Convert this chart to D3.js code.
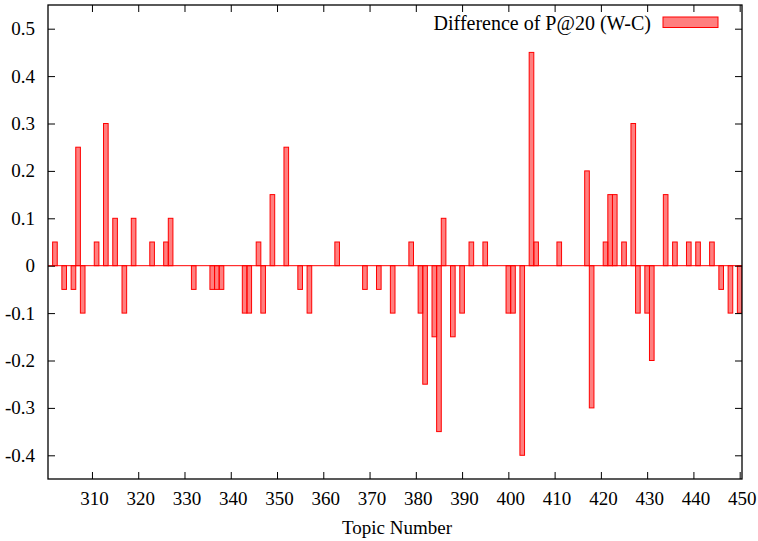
<!DOCTYPE html>
<html>
<head>
<meta charset="utf-8">
<script src="https://d3js.org/d3.v7.min.js"></script>
<style>
  body { margin: 0; background: #fff; }
  #chart { width: 758px; height: 541px; }
</style>
</head>
<body>
<div id="chart"></div>
<script>
// Topics with a non-zero difference (every other topic in 301-450 is 0)
const topics = [302, 304, 306, 307, 308, 311, 313, 315, 317, 319, 323, 326, 327, 332, 336, 337, 338,
    343, 344, 346, 347, 349, 352, 355, 357, 363, 369, 372, 375, 379, 381, 382, 384, 385, 386, 388,
    390, 392, 395, 400, 401, 403, 405, 406, 411, 417, 418, 421, 422, 423, 425, 427, 428, 430, 431,
    434, 436, 439, 441, 444, 446, 448, 450];
const diffs = [0.05, -0.05, -0.05, 0.25, -0.1, 0.05, 0.3, 0.1, -0.1, 0.1, 0.05, 0.05, 0.1, -0.05, -0.05, -0.05, -0.05,
    -0.1, -0.1, 0.05, -0.1, 0.15, 0.25, -0.05, -0.1, 0.05, -0.05, -0.05, -0.1, 0.05, -0.1, -0.25, -0.15, -0.35, 0.1, -0.15,
    -0.1, 0.05, 0.05, -0.1, -0.1, -0.4, 0.45, 0.05, 0.05, 0.2, -0.3, 0.05, 0.15, 0.15, 0.05, 0.3, -0.1, -0.1, -0.2,
    0.15, 0.05, 0.05, 0.05, 0.05, -0.05, -0.1, -0.1];
const xTicks = [310, 320, 330, 340, 350, 360, 370, 380, 390, 400, 410, 420, 430, 440, 450];
const yTicks = [-0.4, -0.3, -0.2, -0.1, 0, 0.1, 0.2, 0.3, 0.4, 0.5];
const seriesName = 'Difference of P@20 (W-C)';

const FONT = '"Liberation Serif", "DejaVu Serif", serif';

const W = 758, H = 541;
const margin = { top: 5, right: 16, bottom: 62, left: 48 };
const width = W - margin.left - margin.right;
const height = H - margin.top - margin.bottom;

const svg = d3.select('#chart')
    .append('svg')
    .attr('width', W)
    .attr('height', H)
    .append('g')
    .attr('transform', `translate(${margin.left},${margin.top})`);

const x = d3.scaleLinear().domain([300.5, 450.5]).range([0, width]);
const y = d3.scaleLinear().domain([-0.45, 0.55]).range([height, 0]);

svg.append('defs').append('clipPath')
    .attr('id', 'plot-clip')
    .append('rect')
    .attr('width', width)
    .attr('height', height);

// Bars (boxwidth 1, half transparent fill, red border)
const bars = topics.map((t, i) => ({ topic: t, value: diffs[i] }));
const plot = svg.append('g').attr('clip-path', 'url(#plot-clip)');

plot.selectAll('.bar')
    .data(bars)
    .enter()
    .append('rect')
    .attr('class', 'bar')
    .attr('x', d => x(d.topic - 0.5))
    .attr('y', d => y(Math.max(0, d.value)))
    .attr('width', d => x(d.topic + 0.5) - x(d.topic - 0.5))
    .attr('height', d => Math.abs(y(d.value) - y(0)))
    .attr('fill', 'rgba(255,0,0,0.5)')
    .attr('stroke', '#ff0000')
    .attr('stroke-width', 1);

// zero-height boxes of the other topics show up as a red baseline
plot.append('line')
    .attr('x1', x(300.5))
    .attr('x2', x(450.5))
    .attr('y1', y(0))
    .attr('y2', y(0))
    .attr('stroke', '#ff0000')
    .attr('stroke-width', 1);

// Axes, ticks pointing inwards on all four sides
const yFmt = d => String(+d.toFixed(1));

const axisStyle = g => {
    g.attr('font-family', FONT);
    g.select('.domain').remove();
    g.selectAll('line').attr('stroke', '#000').attr('stroke-width', 1);
    g.selectAll('text')
        .style('font-family', FONT)
        .style('font-size', '19px')
        .attr('fill', '#000');
};

svg.append('g')
    .call(d3.axisLeft(y).tickValues(yTicks).tickFormat(yFmt).tickSizeInner(-7).tickSizeOuter(0).tickPadding(13))
    .call(axisStyle);

svg.append('g')
    .attr('transform', `translate(${width},0)`)
    .call(d3.axisRight(y).tickValues(yTicks).tickFormat('').tickSizeInner(-7).tickSizeOuter(0))
    .call(axisStyle);

svg.append('g')
    .attr('transform', `translate(0,${height})`)
    .call(d3.axisBottom(x).tickValues(xTicks).tickFormat(d3.format('d')).tickSizeInner(-7).tickSizeOuter(0).tickPadding(12.5))
    .call(axisStyle)
    .selectAll('text')
    .attr('dx', 2);

svg.append('g')
    .call(d3.axisTop(x).tickValues(xTicks).tickFormat('').tickSizeInner(-7).tickSizeOuter(0))
    .call(axisStyle);

// Border
svg.append('rect')
    .attr('width', width)
    .attr('height', height)
    .attr('fill', 'none')
    .attr('stroke', '#000')
    .attr('stroke-width', 1.3);

// Axis title
svg.append('text')
    .attr('x', width / 2 + 2)
    .attr('y', height + 55)
    .attr('text-anchor', 'middle')
    .style('font-family', FONT)
    .style('font-size', '19px')
    .text('Topic Number');

// Legend
const legend = svg.append('g')
    .attr('transform', `translate(${width - 91},0)`);

legend.append('text')
    .attr('x', 0)
    .attr('y', 24.5)
    .attr('text-anchor', 'end')
    .style('font-family', FONT)
    .style('font-size', '20px')
    .text(seriesName);

legend.append('rect')
    .attr('x', 12)
    .attr('y', 12)
    .attr('width', 55)
    .attr('height', 10.5)
    .attr('fill', 'rgba(255,0,0,0.5)')
    .attr('stroke', '#ff0000')
    .attr('stroke-width', 1);
</script>
</body>
</html>
